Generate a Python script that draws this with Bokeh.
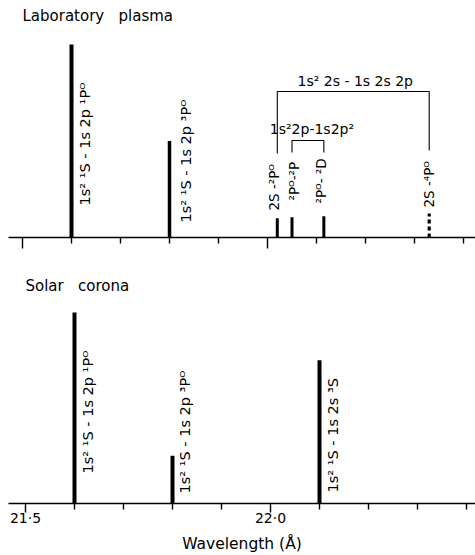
import math
from bokeh.plotting import figure
from bokeh.layouts import column
from bokeh.models import FixedTicker, ColumnDataSource, Range1d
from bokeh.core.properties import value
from bokeh.embed import file_html
from bokeh.resources import INLINE

# ---------------- data ----------------
lab_wavelength = [21.60, 21.80, 22.02, 22.05, 22.115, 22.33]
lab_intensity = [100, 50, 10, 10.5, 11, 12.5]
lab_labels = ["1s² ¹S - 1s 2p ¹Pᴼ", "1s² ¹S - 1s 2p ³Pᴼ",
              "2S -²Pᴼ", "²Pᴼ-²P", "²Pᴼ- ²D", "2S -⁴Pᴼ"]
lab_blended = [False, False, False, False, False, True]   # dotted (uncertain) line

bracket_labels = ["1s² 2s - 1s 2s 2p", "1s²2p-1s2p²"]
bracket_members = [(2, 5), (3, 4)]

solar_wavelength = [21.60, 21.80, 22.10]
solar_intensity = [100, 25, 75]
solar_labels = ["1s² ¹S - 1s 2p ¹Pᴼ", "1s² ¹S - 1s 2p ³Pᴼ", "1s² ¹S - 1s 2s ³S"]

major_ticks = [21.5, 22.0]
major_tick_labels = ["21·5", "22·0"]
minor_ticks = [21.6, 21.7, 21.8, 21.9, 22.1, 22.2, 22.3, 22.4]

FONT = "DejaVu Sans"
PX_PER_A = 490.0        # pixels per angstrom
W = 475
LEFT = 8
FRAME_W = W - LEFT

# ---------------- helpers ----------------
def make_fig(height, x0, ymax, border_top, border_bottom):
    p = figure(width=W, height=height, output_backend="svg", toolbar_location=None,
               x_range=Range1d(x0, x0 + FRAME_W / PX_PER_A), y_range=Range1d(0, ymax),
               y_axis_location=None, min_border_left=LEFT, min_border_right=0,
               min_border_top=border_top, min_border_bottom=border_bottom,
               background_fill_color="white", border_fill_color="white")
    p.outline_line_color = None
    p.grid.visible = False
    ax = p.xaxis[0]
    ax.ticker = FixedTicker(ticks=major_ticks, minor_ticks=minor_ticks)
    ax.axis_line_width = 1.6
    ax.major_tick_line_width = 1.4
    ax.minor_tick_line_width = 1.4
    ax.major_tick_in = 0
    ax.major_tick_out = 11
    ax.minor_tick_in = 0
    ax.minor_tick_out = 6
    ax.major_label_text_font = FONT
    ax.major_label_text_color = "black"
    ax.axis_line_color = "black"
    ax.major_tick_line_color = "black"
    ax.minor_tick_line_color = "black"
    return p


def vlabels(p, xs, ys, texts, size):
    src = ColumnDataSource(dict(x=xs, y=ys, text=texts))
    p.text(x="x", y="y", text="text", source=src, angle=math.pi / 2,
           text_align="left", text_baseline="middle",
           text_font=value(FONT), text_font_size=size, text_color="black")


# ---------------- top: laboratory plasma ----------------
k_top = 1.93   # px per intensity unit
top_x0 = 21.5 - 14 / PX_PER_A
top = make_fig(270, top_x0, 229 / k_top, 8, 33)
top.xaxis.major_label_overrides = {t: "" for t in major_ticks}

solid = [i for i, b in enumerate(lab_blended) if not b]
dotted = [i for i, b in enumerate(lab_blended) if b]
widths = [4, 3.5, 3, 3, 3, 3]
src_s = ColumnDataSource(dict(x=[lab_wavelength[i] for i in solid],
                              y=[lab_intensity[i] for i in solid],
                              w=[widths[i] for i in solid]))
top.segment(x0="x", y0=0, x1="x", y1="y", line_width="w", line_color="black", source=src_s)
src_d = ColumnDataSource(dict(x=[lab_wavelength[i] for i in dotted],
                              y=[lab_intensity[i] for i in dotted]))
top.segment(x0="x", y0=0, x1="x", y1="y", line_width=3.2, line_color="black",
            line_dash="4 3", source=src_d)

lab_dx = [13, 16, -3, 2, -3, 0]
lab_start = [32, 15, 27, 37, 34, 30]
lab_size = ["14.5px", "14.5px", "13.5px", "13.5px", "13.5px", "13.5px"]
for i in range(len(lab_wavelength)):
    vlabels(top, [lab_wavelength[i] + lab_dx[i] / PX_PER_A], [lab_start[i] / k_top],
            [lab_labels[i]], lab_size[i])

# brackets
br_h = [146, 97]
br_leg = [(84, 87), (85, 85)]
br_text_y = [157, 109]
br_text_dx = [2, 4]
for (a, b), h, (la, lb), ty, tdx, lab in zip(bracket_members, br_h, br_leg, br_text_y, br_text_dx, bracket_labels):
    xa, xb = lab_wavelength[a], lab_wavelength[b]
    top.line(x=[xa, xa, xb, xb], y=[la / k_top, h / k_top, h / k_top, lb / k_top],
             line_color="black", line_width=1.1)
    top.text(x=[(xa + xb) / 2 + tdx / PX_PER_A], y=[ty / k_top], text=[lab],
             text_align="center", text_baseline="middle",
             text_font=value(FONT), text_font_size="14px", text_color="black")

top.text(x=[21.5], y=[222 / k_top], text=["Laboratory\u00a0\u00a0\u00a0plasma"], text_align="left",
         text_baseline="middle", text_font=value(FONT), text_font_size="15px",
         text_color="black")

# ---------------- bottom: solar corona ----------------
k_bot = 1.91
bot_x0 = 21.5 - 17 / PX_PER_A
bot = make_fig(285, bot_x0, 233 / k_bot, 0, 52)
bot.xaxis.major_label_overrides = {t: l for t, l in zip(major_ticks, major_tick_labels)}
bot.xaxis.major_label_text_font_size = "14px"
bot.xaxis.major_label_standoff = -3
bot.xaxis.major_tick_out = 9
bot.xaxis.axis_label = "Wavelength (Å)"
bot.xaxis.axis_label_text_font = FONT
bot.xaxis.axis_label_text_font_size = "15.5px"
bot.xaxis.axis_label_text_font_style = "normal"
bot.xaxis.axis_label_standoff = 6
bot.xaxis.axis_label_text_color = "black"

src_b = ColumnDataSource(dict(x=solar_wavelength, y=solar_intensity))
bot.segment(x0="x", y0=0, x1="x", y1="y", line_width=4, line_color="black", source=src_b)

sol_dx = [13, 12, 13]
sol_start = [30, 10, 11]
for i in range(len(solar_wavelength)):
    vlabels(bot, [solar_wavelength[i] + sol_dx[i] / PX_PER_A], [sol_start[i] / k_bot],
            [solar_labels[i]], "14.5px")

bot.text(x=[21.5], y=[218 / k_bot], text=["Solar\u00a0\u00a0\u00a0corona"], text_align="left",
         text_baseline="middle", text_font=value(FONT), text_font_size="15px",
         text_color="black")

layout = column(top, bot, spacing=0)
open("out.html", "w").write(file_html(layout, INLINE))
